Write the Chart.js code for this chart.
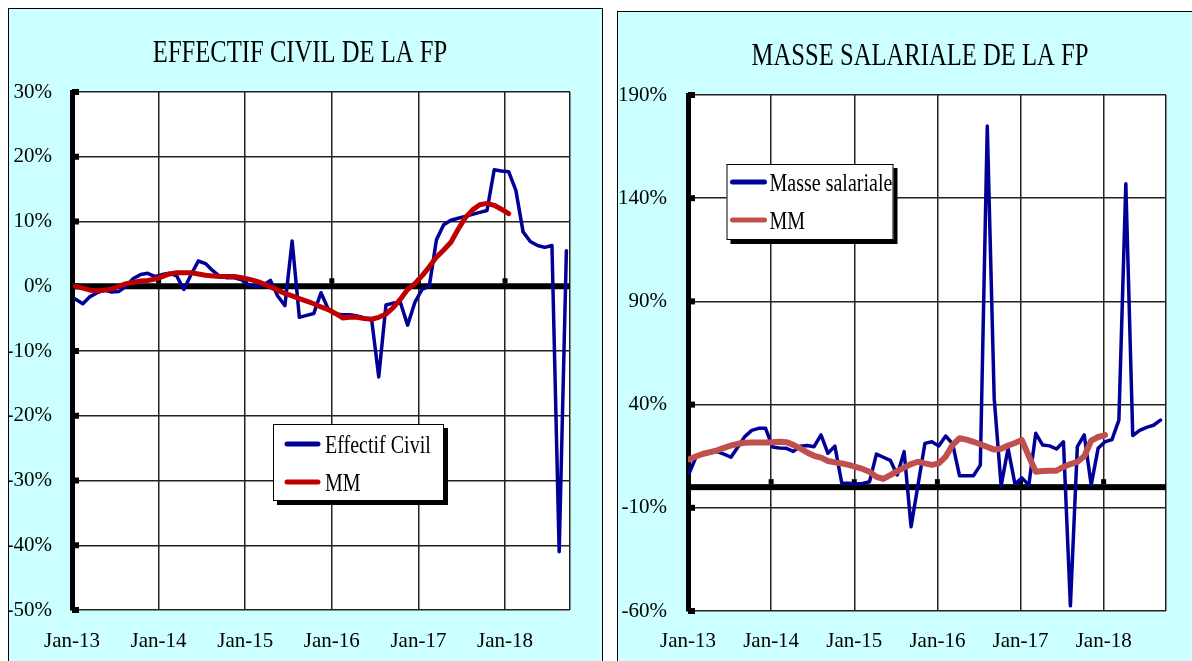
<!DOCTYPE html>
<html>
<head>
<meta charset="utf-8">
<script src="https://cdn.jsdelivr.net/npm/chart.js@4"></script>
<style>
  body { margin: 0; background: #fff; overflow: hidden; width: 1192px; height: 661px; }
  .panel { position: absolute; border: 1px solid #000; background: #ccffff; }
  canvas { display: block; }
</style>
</head>
<body>
<div class="panel" style="left:8px;top:8px"><canvas id="effectif" width="593" height="668"></canvas></div>
<div class="panel" style="left:617px;top:11px"><canvas id="masse" width="600" height="660"></canvas></div>
<script>
// axe des dates : un tick par janvier
const yearLabels = ['Jan-13', 'Jan-14', 'Jan-15', 'Jan-16', 'Jan-17', 'Jan-18'];

// glissement annuel, en %, de janv. 2013 a sept. 2018
const effectifCivil = [
  -2.0, -2.7, -1.6, -1.0, -0.6, -0.9, -0.8, 0.0, 1.2, 1.8, 2.0, 1.5,
  1.8, 2.0, 1.6, -0.5, 1.8, 3.9, 3.5, 2.4, 1.5, 1.3, 1.3, 1.0,
  0.2, 0.0, 0.2, 0.9, -1.5, -3.0, 7.0, -4.8, -4.5, -4.2, -1.0, -3.5,
  -4.3, -4.4, -4.4, -4.6, -4.9, -5.0, -14.0, -2.9, -2.6, -2.5, -6.0, -2.5,
  -0.5, 0.0, 7.2, 9.5, 10.2, 10.5, 10.8, 11.1, 11.4, 11.7, 18.0, 17.8,
  17.7, 14.8, 8.4, 6.9, 6.3, 6.0, 6.3, -41.0, 5.5
];
const effectifMM = [
  0.0, -0.3, -0.6, -0.7, -0.6, -0.4, 0.0, 0.4, 0.6, 0.8, 0.9, 1.1,
  1.5, 1.9, 2.1, 2.1, 2.1, 1.9, 1.7, 1.6, 1.5, 1.5, 1.5, 1.3,
  1.1, 0.8, 0.4, -0.1, -0.6, -1.1, -1.5, -1.9, -2.3, -2.7, -3.2, -3.6,
  -4.2, -4.9, -4.8, -4.8, -5.0, -5.1, -4.8, -4.3, -3.3, -2.0, -0.5, 0.4,
  1.6, 3.0, 4.5, 5.6, 6.8, 8.8, 10.6, 11.8, 12.6, 12.8, 12.5, 11.9,
  11.2
];
const masseSalariale = [
  7.0, 15.0, 15.8, 16.5, 17.2, 16.0, 14.5, 19.5, 24.5, 27.5, 28.5, 28.5,
  19.5, 19.0, 18.8, 17.3, 19.8, 20.2, 19.6, 25.3, 16.4, 19.9, 1.9, 1.9,
  1.5, 1.8, 2.6, 16.0, 14.5, 13.0, 5.9, 17.2, -19.2, 1.0, 21.2, 22.0,
  20.0, 24.8, 21.0, 5.5, 5.5, 5.5, 10.7, 175.0, 43.0, 0.6, 18.8, 1.5,
  4.5, 1.0, 26.1, 20.4, 20.0, 18.5, 22.0, -57.5, 19.6, 25.3, 1.0, 18.8,
  22.0, 23.0, 32.5, 147.0, 25.0, 27.5, 29.0, 30.0, 32.5
];
const masseMM = [
  13.5, 15.0, 16.2, 17.0, 17.8, 19.0, 20.2, 21.0, 21.5, 21.6, 21.6, 21.6,
  21.8, 22.0, 21.8, 20.5, 18.8, 16.8, 15.2, 14.3, 12.7, 12.0, 11.5, 10.8,
  9.8, 8.8, 7.5, 5.0, 4.0, 5.8, 7.8, 9.5, 11.2, 12.3, 11.5, 10.8,
  11.5, 14.8, 20.5, 23.7, 23.0, 22.0, 20.8, 19.5, 18.2, 18.6, 20.2, 21.4,
  22.8, 15.0, 7.5, 7.8, 8.0, 8.0, 9.8, 11.2, 12.2, 15.0, 22.5, 24.3,
  25.2
];

const serif = '"Liberation Serif", "Times New Roman", serif';
const squeeze = 0.77; // police etroite facon Garamond

function points(values, shift) {
  return values.map((v, i) => ({ x: i + shift, y: v }));
}

function narrowText(ctx, text, x, y, size, align) {
  ctx.save();
  ctx.font = size + 'px ' + serif;
  ctx.textAlign = align;
  ctx.textBaseline = 'alphabetic';
  ctx.fillStyle = '#000';
  ctx.translate(x, y);
  ctx.scale(squeeze, 1);
  ctx.fillText(text, 0, 0);
  ctx.restore();
}

// fond blanc, axe du zero, petites graduations, titre et legende
const decor = {
  id: 'decor',
  beforeDraw(chart) {
    const { ctx, chartArea: a } = chart;
    ctx.save();
    ctx.fillStyle = '#fff';
    ctx.fillRect(a.left, a.top, a.width, a.height);
    ctx.restore();
  },
  beforeDatasetsDraw(chart) {
    const { ctx, chartArea: a, scales: { x, y } } = chart;
    const y0 = y.getPixelForValue(0);
    ctx.save();
    ctx.fillStyle = '#000';
    ctx.fillRect(a.left, y0 - 3, a.width, 6);
    y.ticks.forEach(t => {
      ctx.fillRect(a.left, y.getPixelForValue(t.value) - 3, 7, 6);
    });
    x.ticks.forEach(t => {
      if (t.value > 0 && t.label) ctx.fillRect(x.getPixelForValue(t.value) - 2.5, y0 - 8, 5, 5);
    });
    ctx.restore();
  },
  afterDraw(chart, args, opts) {
    const { ctx, chartArea: a } = chart;
    narrowText(ctx, opts.title, opts.titleX, 53, 32, 'center');

    const L = opts.legend;
    const bx = a.left + L.dx, by = a.top + L.dy;
    ctx.save();
    ctx.fillStyle = '#000';
    ctx.fillRect(bx + 4, by + 4, L.w, L.h);
    ctx.fillStyle = '#fff';
    ctx.fillRect(bx, by, L.w, L.h);
    ctx.strokeStyle = '#000';
    ctx.lineWidth = 1;
    ctx.strokeRect(bx + 0.5, by + 0.5, L.w - 1, L.h - 1);
    chart.data.datasets.forEach((ds, i) => {
      const ly = by + L.rows[i];
      ctx.strokeStyle = ds.borderColor;
      ctx.lineWidth = 5;
      ctx.lineCap = 'round';
      ctx.beginPath();
      ctx.moveTo(bx + L.x0, ly);
      ctx.lineTo(bx + L.x1, ly);
      ctx.stroke();
      narrowText(ctx, ds.label, bx + L.tx, ly + 8.6, 26, 'left');
    });
    ctx.restore();
  }
};

function makeChart(id, cfg) {
  const tickFont = { family: serif, size: 21 };
  return new Chart(document.getElementById(id), {
    type: 'line',
    data: {
      datasets: [
        { label: cfg.name, data: points(cfg.series, cfg.shift), borderColor: '#000099', borderWidth: 3.5, order: 1 },
        { label: 'MM', data: points(cfg.mm, cfg.shift), borderColor: cfg.mmColor, borderWidth: cfg.mmWidth, order: 0 }
      ]
    },
    options: {
      responsive: false,
      animation: false,
      devicePixelRatio: 1,
      layout: { padding: { left: 0, top: 83, right: cfg.padRight, bottom: 0 } },
      elements: {
        point: { radius: 0 },
        line: { tension: 0, borderJoinStyle: 'round', borderCapStyle: 'round' }
      },
      scales: {
        x: {
          type: 'linear',
          min: 0,
          max: 69,
          afterBuildTicks: s => { s.ticks = yearLabels.map((_, k) => ({ value: k * 12 })).concat({ value: 69 }); },
          afterFit: s => { s.height = cfg.xHeight; },
          ticks: {
            callback: (v, i) => yearLabels[i] || '',
            color: '#000', font: tickFont, padding: cfg.xPad, maxRotation: 0, autoSkip: false
          },
          grid: { color: '#222', lineWidth: 1.5, drawTicks: false },
          border: { display: false }
        },
        y: {
          min: cfg.yMin,
          max: cfg.yMax,
          afterFit: s => { s.width = cfg.yWidth; },
          ticks: {
            stepSize: cfg.yStep,
            callback: v => v + '%',
            color: '#000', font: tickFont, padding: cfg.yPad
          },
          grid: { color: '#222', lineWidth: 1.5, drawTicks: false },
          border: { color: '#000', width: 5 }
        }
      },
      plugins: {
        legend: { display: false },
        tooltip: { enabled: false },
        decor: { title: cfg.title, titleX: cfg.titleX, legend: cfg.legend }
      }
    },
    plugins: [decor]
  });
}

makeChart('effectif', {
  title: 'EFFECTIF CIVIL DE LA FP',
  titleX: 291,
  name: 'Effectif Civil',
  series: effectifCivil,
  mm: effectifMM,
  mmColor: '#c00000',
  mmWidth: 5,
  shift: 0.5,
  yMin: -50, yMax: 30, yStep: 10,
  yWidth: 63, yPad: 20, xHeight: 67, xPad: 19, padRight: 32,
  legend: { dx: 201, dy: 332, w: 171, h: 77, x0: 14, x1: 45, tx: 52, rows: [20, 58] }
});

makeChart('masse', {
  title: 'MASSE SALARIALE DE LA FP',
  titleX: 302,
  name: 'Masse salariale',
  series: masseSalariale,
  mm: masseMM,
  mmColor: '#c0504d',
  mmWidth: 6,
  shift: 0.2,
  yMin: -60, yMax: 190, yStep: 50,
  yWidth: 70, yPad: 21, xHeight: 61, xPad: 18, padRight: 52,
  legend: { dx: 38.5, dy: 69, w: 167, h: 76, x0: 6, x1: 38, tx: 43, rows: [18, 56] }
});
</script>
</body>
</html>
